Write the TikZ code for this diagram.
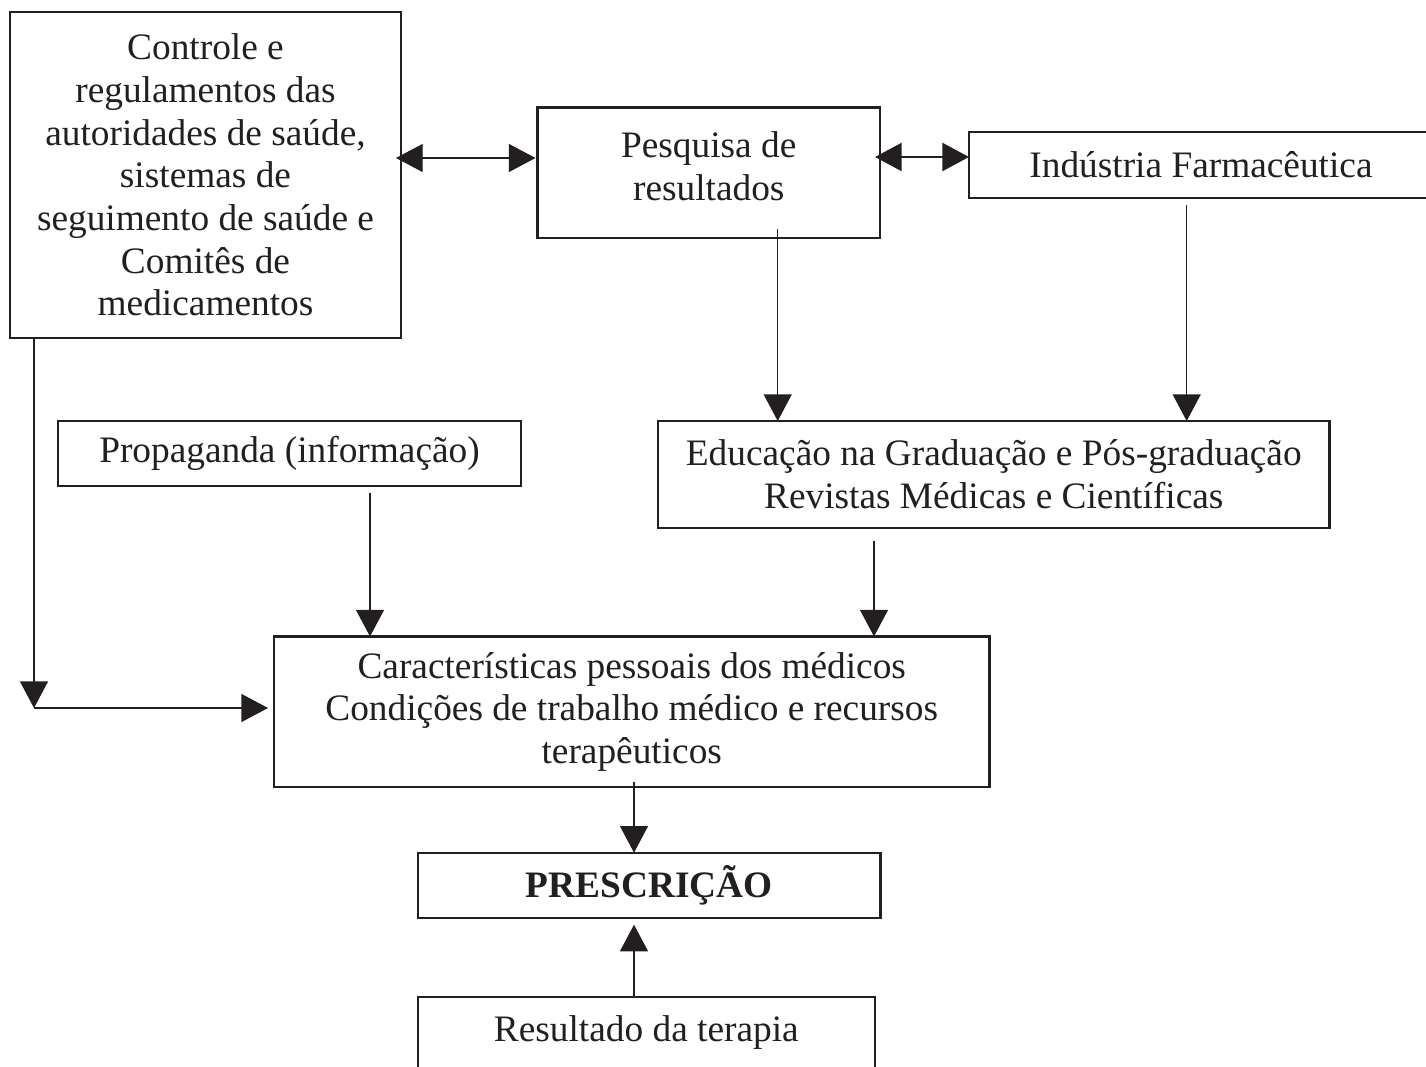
\documentclass[tikz,border=0pt]{standalone}
\usepackage{fontspec}
\setmainfont{Liberation Serif}
\usetikzlibrary{arrows.meta}
\definecolor{ink}{RGB}{35,31,32}
\begin{document}
\begin{tikzpicture}[x=0.75pt,y=-0.75pt,
  box/.style={draw=ink, line width=1.7pt, inner sep=0pt, outer sep=0pt, align=center, text=ink, font=\fontsize{28}{32}\selectfont},
  arr/.style={draw=ink, line width=1pt, -{Triangle[length=20pt,width=21pt]}},
  dbl/.style={draw=ink, line width=1pt, {Triangle[length=20pt,width=21pt]}-{Triangle[length=20pt,width=21pt]}}]
\fill[white] (0,0) rectangle (1426,1066);
\useasboundingbox (0,0) rectangle (1426,1066);
\clip (0,0) rectangle (1426,1066);

\node[box, minimum width=293.25pt, minimum height=244.5pt] (ctl) at (205.5,175)
  {Controle e\\regulamentos das\\autoridades de saúde,\\sistemas de\\seguimento de saúde e\\Comitês de\\medicamentos};
\node[box, minimum width=256.9pt, minimum height=97.9pt,
  label={[name=pestext, align=center, text=ink, font=\fontsize{28}{32}\selectfont, yshift=5pt]center:Pesquisa de\\resultados}] (pes) at (708.75,172.75) {};
\node[box, minimum width=348pt, minimum height=49.5pt] (ind) at (1201,165) {Indústria Farmacêutica};
\node[box, minimum width=347.25pt, minimum height=48.75pt] (pro) at (289.5,453.5) {Propaganda (informação)};
\node[box, minimum width=503.6pt, minimum height=80.25pt] (edu) at (993.75,474.5)
  {Educação na Graduação e Pós-graduação\\Revistas Médicas e Científicas};
\node[box, minimum width=536.6pt, minimum height=112.9pt] (car) at (631.75,711.75)
  {Características pessoais dos médicos\\Condições de trabalho médico e recursos\\terapêuticos};
\node[box, minimum width=346.9pt, minimum height=48.75pt] (pre) at (649.25,885.2) {\bfseries PRESCRIÇÃO};
\node[box, minimum width=342.5pt, minimum height=54pt] (res) at (646.3,1033) {Resultado da terapia};

% horizontal double arrows
\coordinate (h1) at (0,158);
\draw[dbl, shorten <=-3.75pt, shorten >=1.5pt] (ctl.east |- h1) -- (pes.west |- h1);
\coordinate (h2) at (0,157);
\draw[dbl, line width=1.75pt, shorten <=-3.75pt] (pes.east |- h2) -- (ind.west |- h2);

% vertical arrows
\coordinate (pd) at (777.7,229);
\draw[arr] (pd) -- (pd |- edu.north);
\coordinate (idn) at (1186.7,205);
\draw[arr] (idn) -- (idn |- edu.north);
\coordinate (prd) at (370,493);
\draw[arr] (prd) -- (prd |- car.north);
\coordinate (ed) at (874,541);
\draw[arr] (ed) -- (ed |- car.north);
\coordinate (cd) at (634,782);
\draw[arr] (cd) -- (cd |- pre.north);
\coordinate (rx) at (634,0);
\draw[arr, shorten >=5.25pt] (res.north -| rx) -- (pre.south -| rx);

% left connector
\coordinate (corner) at (34,708);
\draw[arr] (ctl.south -| corner) -- (corner);
\draw[arr, shorten >=4.5pt] (corner) -- (car.west |- corner);
\end{tikzpicture}
\end{document}
